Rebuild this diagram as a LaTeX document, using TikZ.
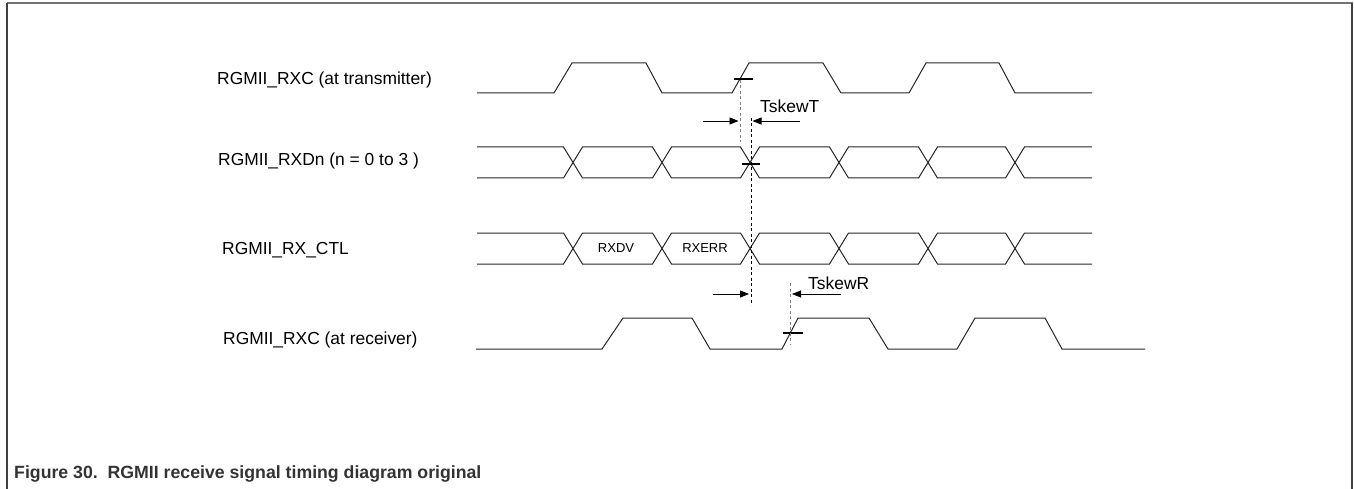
\documentclass[tikz,border=0pt]{standalone}
\usepackage{fontspec}
\setmainfont{Liberation Sans}
\usetikzlibrary{arrows.meta}
\begin{document}
\begin{tikzpicture}[x=1pt,y=-1pt,
  sig/.style={line width=1pt,black!85,line join=miter},
  lbl/.style={inner sep=0pt,anchor=west,font=\fontsize{17.4}{20}\selectfont},
  small/.style={inner sep=0pt,font=\fontsize{13}{15}\selectfont},
  tick/.style={line width=2pt,black},
  gdash/.style={line width=1pt,black!50,dash pattern=on 3pt off 2.5pt},
  bdash/.style={line width=1pt,black,dash pattern=on 3pt off 2.5pt},
  arr/.style={line width=0.8pt,-{Triangle[length=9pt,width=7pt]}}]
\useasboundingbox (0,0) rectangle (1354,489);
% frame
\draw[line width=2.5pt,black!55] (6.5,3) -- (1352.5,3);
\draw[line width=1.2pt,black!75] (7,3) -- (7,489);
\draw[line width=1.2pt,black!75] (1352,3) -- (1352,489);
% labels
\node[lbl] (l1) at (217,79.5) {RGMII\_RXC (at transmitter)};
\node[lbl] (l2) at (218,161) {RGMII\_RXDn (n = 0 to 3 )};
\node[lbl] (l3) at (222,250) {RGMII\_RX\_CTL};
\node[lbl] (l4) at (223,340) {RGMII\_RXC (at receiver)};
% signal 1: clock at transmitter
\draw[sig] (477,93) -- (554,93) -- (572,63) -- (646,63) -- (662,93) -- (732,93) -- (749,63) -- (823,63) -- (841,93) -- (909,93) -- (926,63) -- (999,63) -- (1015,93) -- (1092,93);
% signal 2 and 3: data buses
\foreach \t/\b in {147/178, 233/264}{
  \draw[sig] (477,\t) -- (563.5,\t) -- (582.5,\b) -- (652.5,\b) -- (671.5,\t) -- (740.5,\t) -- (759.5,\b) -- (829.5,\b) -- (848.5,\t) -- (918.5,\t) -- (937.5,\b) -- (1005.5,\b) -- (1024.5,\t) -- (1092,\t);
  \draw[sig] (477,\b) -- (563.5,\b) -- (582.5,\t) -- (652.5,\t) -- (671.5,\b) -- (740.5,\b) -- (759.5,\t) -- (829.5,\t) -- (848.5,\b) -- (918.5,\b) -- (937.5,\t) -- (1005.5,\t) -- (1024.5,\b) -- (1092,\b);
}
\node[small] (rxdv) at (616,248.5) {RXDV};
\node[small] (rxerr) at (705,248.5) {RXERR};
% signal 4: clock at receiver
\draw[sig] (476,349) -- (602,349) -- (623,318) -- (692,318) -- (710,349) -- (782,349) -- (798,318) -- (869,318) -- (888,349) -- (957,349) -- (975,318) -- (1045,318) -- (1062,349) -- (1145,349);
% ticks
\draw[tick] (734,79) -- (753,79);
\draw[tick] (742,164) -- (760,164);
\draw[tick] (783,333) -- (803,333);
% dashed references
\draw[gdash] (740,80) -- (740,142);
\draw[bdash] (751,118) -- (751,305);
\draw[gdash] (790,283) -- (790,345);
% skew arrows
\coordinate (a1s) at (703,121); \coordinate (a1e) at (738.5,121);
\coordinate (a2s) at (800,121); \coordinate (a2e) at (752.5,121);
\coordinate (a3s) at (713,294); \coordinate (a3e) at (749,294);
\coordinate (a4s) at (841,294); \coordinate (a4e) at (792,294);
\draw[arr] (a1s) -- (a1e);
\draw[arr] (a2s) -- (a2e);
\draw[arr] (a3s) -- (a3e);
\draw[arr] (a4s) -- (a4e);
\node[lbl] (tskt) at (760,106) {TskewT};
\node[lbl] (tskr) at (808,283) {TskewR};
% caption
\node[inner sep=0pt,anchor=west,text=black!80,font=\bfseries\fontsize{17.7}{20}\selectfont] (cap) at (14,474) {Figure 30.\ \ RGMII receive signal timing diagram original};
\end{tikzpicture}
\end{document}
